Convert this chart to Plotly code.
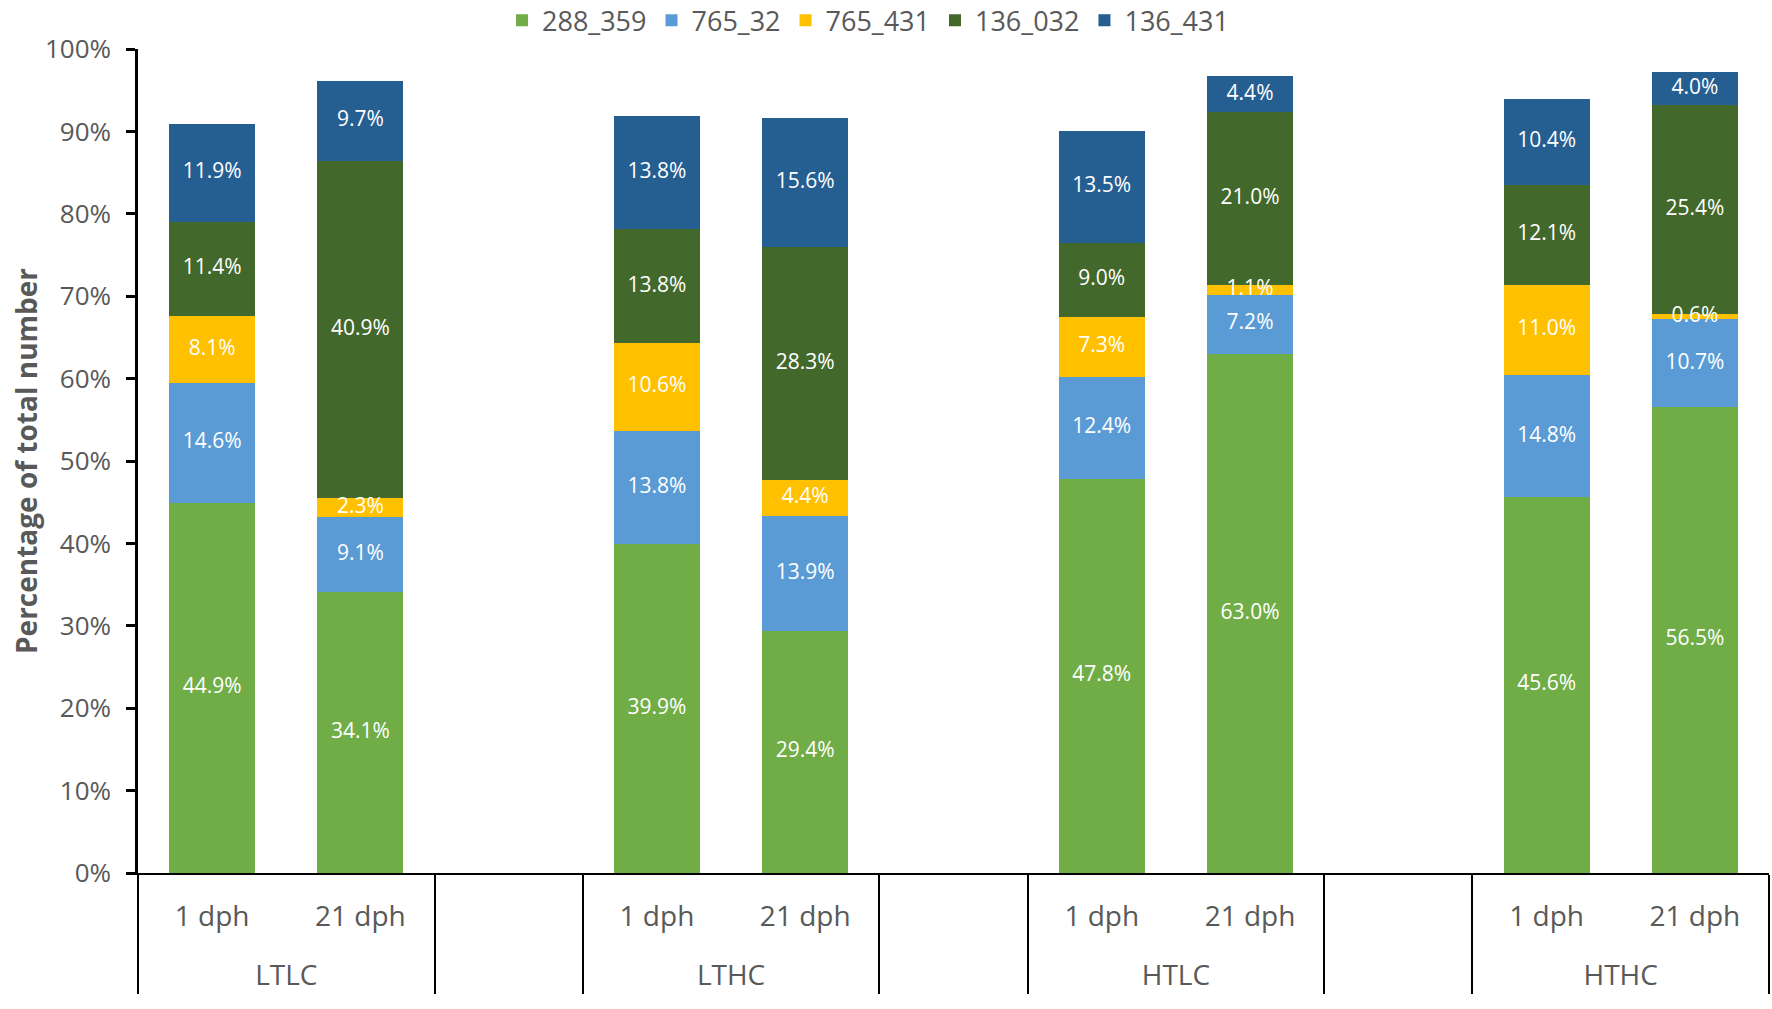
import plotly.graph_objects as go

groups = ["LTLC", "LTLC", " ", "LTHC", "LTHC", "  ", "HTLC", "HTLC", "   ", "HTHC", "HTHC"]
stages = ["1 dph", "21 dph", " ", "1 dph", "21 dph", " ", "1 dph", "21 dph", " ", "1 dph", "21 dph"]

series_names = ["288_359", "765_32", "765_431", "136_032", "136_431"]
colors = ["#70AD47", "#5B9BD5", "#FFC000", "#43682B", "#255E91"]

s_288_359 = [44.9, 34.1, None, 39.9, 29.4, None, 47.8, 63.0, None, 45.6, 56.5]
s_765_32 = [14.6, 9.1, None, 13.8, 13.9, None, 12.4, 7.2, None, 14.8, 10.7]
s_765_431 = [8.1, 2.3, None, 10.6, 4.4, None, 7.3, 1.1, None, 11.0, 0.6]
s_136_032 = [11.4, 40.9, None, 13.8, 28.3, None, 9.0, 21.0, None, 12.1, 25.4]
s_136_431 = [11.9, 9.7, None, 13.8, 15.6, None, 13.5, 4.4, None, 10.4, 4.0]

series_values = [s_288_359, s_765_32, s_765_431, s_136_032, s_136_431]

FONT = "Open Sans, Noto Sans, sans-serif"
GRAY = "#595959"

# group labels shown one line lower than the sub-category row
group_labels = ["<br>" + g for g in groups]
xcats = [group_labels, stages]

fig = go.Figure()
for name, vals, col in zip(series_names, series_values, colors):
    fig.add_trace(go.Bar(
        x=xcats,
        y=vals,
        name=name,
        marker=dict(color=col, line=dict(width=0)),
        hoverinfo="skip",
    ))

# data labels drawn above all bars (centre of each stacked segment)
running = [0.0] * len(stages)
for name, vals in zip(series_names, series_values):
    mids, texts = [], []
    for i, v in enumerate(vals):
        if v is None:
            mids.append(None)
            texts.append("")
        else:
            mids.append(running[i] + v / 2.0)
            texts.append(f"{v:.1f}%")
            running[i] += v
    fig.add_trace(go.Scatter(
        x=xcats, y=mids, text=texts, mode="text",
        textposition="middle center",
        textfont=dict(color="white", size=21, family=FONT),
        showlegend=False, hoverinfo="skip", cliponaxis=False,
    ))

fig.update_layout(
    barmode="stack",
    bargap=0.42,
    width=1772,
    height=1009,
    margin=dict(l=138, r=3, t=49, b=136, autoexpand=False),
    plot_bgcolor="white",
    paper_bgcolor="white",
    font=dict(family=FONT, color=GRAY),
    legend=dict(
        orientation="h",
        xref="paper", yref="paper",
        x=0.4476, xanchor="center",
        y=1.064, yanchor="top",
        font=dict(size=27, color=GRAY, family=FONT),
        itemwidth=30,
        traceorder="normal",
    ),
    showlegend=True,
)

fig.update_xaxes(
    type="multicategory",
    range=[-0.5, len(stages) - 0.5],
    showline=True, linecolor="black", linewidth=1.5,
    ticks="",
    showgrid=False,
    showdividers=True, dividercolor="black", dividerwidth=1.5,
    tickfont=dict(size=28, color=GRAY, family=FONT),
    ticklabelstandoff=18,
    automargin=False,
)
fig.update_yaxes(
    range=[0, 100],
    dtick=10,
    ticksuffix="%",
    showline=True, linecolor="black", linewidth=2.5,
    ticks="outside", ticklen=9, tickwidth=2.5, tickcolor="black",
    showgrid=False, zeroline=False,
    tickfont=dict(size=26, color=GRAY, family=FONT),
    ticklabelstandoff=10,
    automargin=False,
    title=dict(text="<b>Percentage of total number</b>",
               font=dict(size=28, color=GRAY, family=FONT), standoff=0),
)

fig.write_html("out.html", config={"displayModeBar": False},
               post_script="document.body.style.margin='0px';")
